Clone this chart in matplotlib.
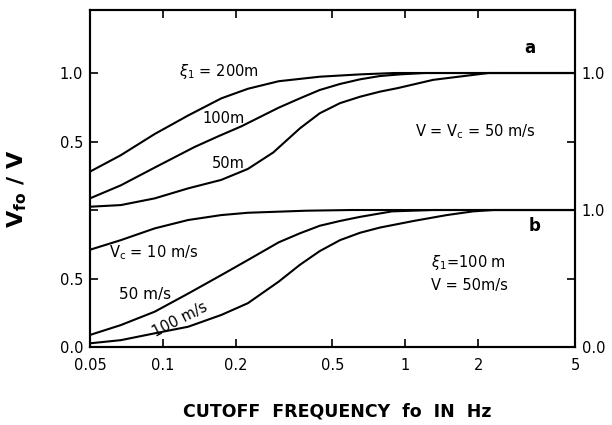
import matplotlib

matplotlib.use("Agg")
import matplotlib.pyplot as plt
import numpy as np

# Panel (a): V = Vc = 50 m/s, varying correlation length xi_1
freq_200m = [0.05, 0.067, 0.0925, 0.127, 0.174, 0.224, 0.30, 0.443, 0.65, 0.9, 5.0]
ratio_200m = [0.28, 0.40, 0.555, 0.69, 0.815, 0.885, 0.94, 0.973, 0.99, 1.0, 1.0]

freq_100m = [0.05, 0.067, 0.0925, 0.135, 0.17, 0.21, 0.30, 0.367, 0.443, 0.537,
             0.65, 0.785, 0.95, 1.2, 5.0]
ratio_100m = [0.085, 0.18, 0.31, 0.46, 0.54, 0.61, 0.747, 0.815, 0.876, 0.92,
              0.954, 0.978, 0.99, 1.0, 1.0]

freq_50m = [0.05, 0.067, 0.0925, 0.127, 0.174, 0.224, 0.285, 0.367, 0.443,
            0.537, 0.65, 0.785, 0.93, 1.3, 2.2, 5.0]
ratio_50m = [0.024, 0.036, 0.085, 0.158, 0.22, 0.30, 0.42, 0.596, 0.706,
             0.78, 0.827, 0.864, 0.89, 0.95, 1.0, 1.0]

# Panel (b): xi_1 = 100 m, V = 50 m/s, varying Vc
freq_vc10 = [0.05, 0.067, 0.0925, 0.127, 0.174, 0.224, 0.39, 0.6, 5.0]
ratio_vc10 = [0.71, 0.78, 0.866, 0.927, 0.963, 0.98, 0.995, 1.0, 1.0]

freq_vc50 = [0.05, 0.067, 0.0925, 0.127, 0.174, 0.224, 0.30, 0.367, 0.443, 0.537,
             0.65, 0.785, 0.88, 1.3, 5.0]
ratio_vc50 = [0.088, 0.16, 0.258, 0.39, 0.525, 0.635, 0.764, 0.83, 0.885, 0.92,
              0.95, 0.975, 0.99, 1.0, 1.0]

freq_vc100 = [0.05, 0.067, 0.0925, 0.127, 0.174, 0.224, 0.30, 0.367, 0.443, 0.537,
              0.65, 0.785, 1.08, 1.48, 1.9, 2.3, 5.0]
ratio_vc100 = [0.027, 0.05, 0.10, 0.148, 0.234, 0.32, 0.477, 0.60, 0.70, 0.78,
               0.834, 0.872, 0.92, 0.963, 0.99, 1.0, 1.0]

x_ticks = [0.05, 0.1, 0.2, 0.5, 1, 2, 5]
x_tick_labels = ["0.05", "0.1", "0.2", "0.5", "1", "2", "5"]

# panel (a) sits on top of panel (b), shifted up by one unit
PANEL_OFFSET = 1.0

fig = plt.figure(figsize=(6.12, 4.25), dpi=100)
ax = fig.add_axes([0.147, 0.1835, 0.7925, 0.793])

lw = 1.5
for f, r in [(freq_200m, ratio_200m), (freq_100m, ratio_100m), (freq_50m, ratio_50m)]:
    ax.plot(f, np.array(r) + PANEL_OFFSET, color="black", lw=lw, solid_joinstyle="round")
for f, r in [(freq_vc10, ratio_vc10), (freq_vc50, ratio_vc50), (freq_vc100, ratio_vc100)]:
    ax.plot(f, r, color="black", lw=lw, solid_joinstyle="round")

ax.set_xscale("log")
ax.set_xlim(0.05, 5)
ax.set_ylim(0, 2.46)
ax.set_xticks(x_ticks)
ax.set_xticklabels(x_tick_labels)
ax.minorticks_off()

ax.set_yticks([0.0, 0.5, 1.0, 1.5, 2.0])
ax.set_yticklabels(["0.0", "0.5", "", "0.5", "1.0"])
ax.tick_params(axis="both", direction="in", length=6, width=1.2,
               top=True, right=True, labelsize=10.5)
ax.tick_params(axis="x", pad=8)
ax.tick_params(axis="y", pad=5)

# right-hand scale for the two panels
ax_r = ax.twinx()
ax_r.set_ylim(ax.get_ylim())
ax_r.set_yticks([0.0, 0.5, 1.0, 1.5, 2.0])
ax_r.set_yticklabels(["0.0", "", "1.0", "", "1.0"])
ax_r.tick_params(axis="y", direction="in", length=6, width=1.2, labelsize=10.5, pad=5)

for a in (ax, ax_r):
    for s in a.spines.values():
        s.set_linewidth(1.5)

fs = 10.5
# panel (a) labels
ax.text(0.17, 2.01, r"$\xi_1$ = 200m", fontsize=fs, ha="center", va="center")
ax.text(0.178, 1.67, "100m", fontsize=fs, ha="center", va="center")
ax.text(0.186, 1.34, "50m", fontsize=fs, ha="center", va="center")
ax.text(3.25, 2.18, "a", fontsize=12, ha="center", va="center", fontweight="bold")
ax.text(1.09, 1.57, r"V = V$_\mathrm{c}$ = 50 m/s", fontsize=fs, ha="left", va="center")

# panel (b) labels
ax.text(3.4, 0.88, "b", fontsize=12, ha="center", va="center", fontweight="bold")
ax.text(1.28, 0.62, r"$\xi_1$=100 m", fontsize=fs, ha="left", va="center")
ax.text(1.28, 0.45, "V = 50m/s", fontsize=fs, ha="left", va="center")
ax.text(0.06, 0.69, r"V$_\mathrm{c}$ = 10 m/s", fontsize=fs, ha="left", va="center")
ax.text(0.066, 0.38, "50 m/s", fontsize=11, ha="left", va="center")
ax.text(0.118, 0.20, "100 m/s", fontsize=fs, ha="center", va="center", rotation=27)

ax.set_ylabel(r"V$_{\mathbf{fo}}$ / V", fontsize=16, fontweight="bold")
ax.yaxis.set_label_coords(-0.125, 0.47)
ax.set_xlabel("CUTOFF  FREQUENCY  fo  IN  Hz", fontsize=12.5, fontweight="bold")
ax.xaxis.set_label_coords(0.51, -0.165)

fig.savefig("out.png", dpi=100)
